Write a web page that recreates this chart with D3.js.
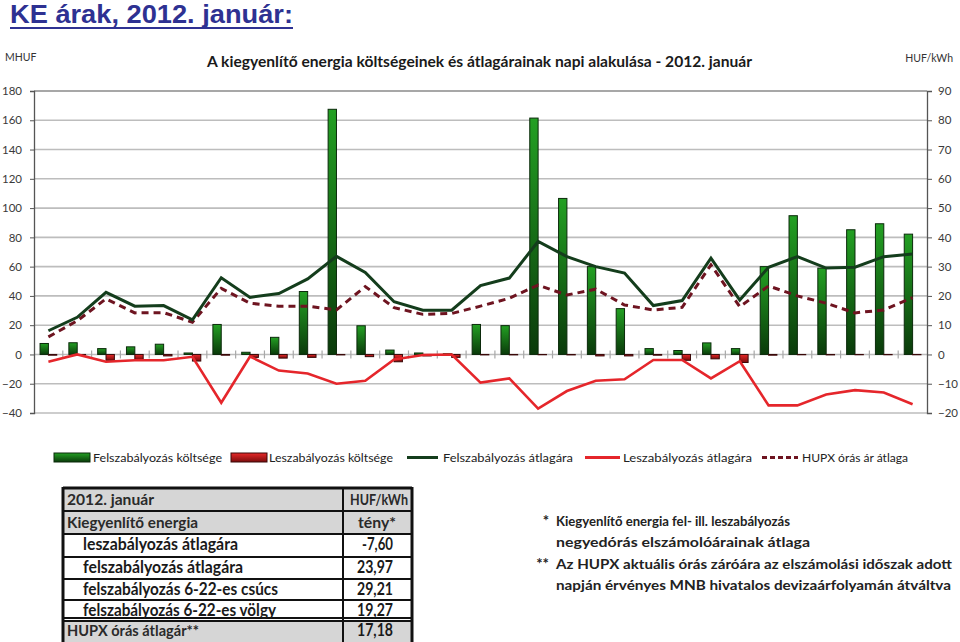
<!DOCTYPE html>
<html><head><meta charset="utf-8">
<script src="https://cdn.jsdelivr.net/npm/d3@7"></script>
<style>body{margin:0;background:#fff;} svg{display:block}</style>
</head><body>
<svg id="c" width="960" height="642"></svg>
<script>
// ---- data ----
const days = ["1","2","3","4","5","6","7","8","9","10","11","12","13","14","15","16","17","18","19","20","21","22","23","24","25","26","27","28","29","30","31"];
// MHUF (left axis)
const upCost = [7.5,8,4,5.2,7,1,20.5,1.5,11.7,43,167.5,19.6,3,1,0.5,20.5,19.7,161.5,106.6,60,31.3,4,2.7,7.9,4,60,94.8,59,85.2,89.3,82.2];
const downCost = [-0.5,-0.3,-4,-3.5,-1,-4.5,-0.5,-2,-2.5,-2,-0.3,-1.5,-5,-1,-2,-0.3,-0.3,-0.2,-0.3,-1,-1,-0.5,-4,-3,-5.5,-0.5,-0.2,-0.3,-0.2,-0.2,-0.2];
// HUF/kWh (right axis)
const upPrice = [8.1,12.7,21.2,16.5,16.7,11.8,26.2,19.5,20.8,25.8,33.5,28,18,15.1,15.1,23.5,26.1,38.6,33.4,30,27.8,16.7,18.4,32.9,18.6,29.8,33.4,29.5,29.8,33.4,34.3];
const downPrice = [-2.5,0,-2.5,-2,-2,-0.8,-16.5,-0.7,-5.5,-6.5,-10,-9,-1.7,-0.2,0,-9.6,-8.2,-18.5,-12.5,-9,-8.5,-1.9,-1.9,-8.2,-2.3,-17.4,-17.4,-13.7,-12.2,-13,-17];
const hupx = [6,11.5,19,14.2,14.3,11,22.6,17.5,16.5,16.5,15.2,23.2,16,13.7,14,16.5,19.2,23.7,20.3,22.3,16.9,15.2,16.1,30.6,16.3,23.4,20,17.5,14.2,15.2,19.4];
const leftTicks = [-40,-20,0,20,40,60,80,100,120,140,160,180];
const rightTicks = [-20,-10,0,10,20,30,40,50,60,70,80,90];
const legendLabels = ["Felszabályozás költsége","Leszabályozás költsége","Felszabályozás átlagára","Leszabályozás átlagára","HUPX órás ár átlaga"];
const tableHeader = [["2012. január","HUF/kWh"],["Kiegyenlítő energia","tény*"]];
const tableRows = [["leszabályozás átlagára","-7,60"],["felszabályozás átlagára","23,97"],["felszabályozás 6-22-es csúcs","29,21"],["felszabályozás 6-22-es völgy","19,27"]];
const tableFooter = ["HUPX órás átlagár**","17,18"];
const notes = [["*","Kiegyenlítő energia fel- ill. leszabályozás"],["","negyedórás elszámolóárainak átlaga"],["**","Az HUPX aktuális órás záróára az elszámolási időszak adott"],["","napján érvényes MNB hivatalos devizaárfolyamán átváltva"]];

// ---- drawing ----
const svg = d3.select("#c");
const F = "Lato, 'Open Sans', sans-serif";
const L = 34, R = 927, T = 91, B = 413;
const yL = d3.scaleLinear().domain([-40,180]).range([B,T]);
const yR = d3.scaleLinear().domain([-20,90]).range([B,T]);
const x = d3.scaleBand().domain(days).range([L,R]).paddingInner(0.42).paddingOuter(0.21);
const xs = d3.scaleBand().domain(["up","down"]).range([0,x.bandwidth()]);
const cx = d => x(d) + x.bandwidth()/2;

const defs = svg.append("defs");
function grad(id, c1, c2){
  const g = defs.append("linearGradient").attr("id",id).attr("x1",0).attr("y1",0).attr("x2",0).attr("y2",1);
  g.append("stop").attr("offset","0%").attr("stop-color",c1);
  g.append("stop").attr("offset","100%").attr("stop-color",c2);
}
grad("gG","#23a023","#0a3a0a");
grad("gR","#e82828","#7a0c0c");

// main title
svg.append("text").attr("x",10).attr("y",23).attr("font-family","'Liberation Sans', Arial, sans-serif")
  .attr("font-weight","bold").attr("font-size",25).attr("fill","#2e3192")
  .attr("textLength",283).attr("lengthAdjust","spacingAndGlyphs")
  .text("KE árak, 2012. január:");
svg.append("rect").attr("x",10).attr("y",27).attr("width",283).attr("height",2).attr("fill","#2e3192");

// chart title + units
svg.append("text").attr("x",207).attr("y",67).attr("font-family",F).attr("font-weight","bold")
  .attr("font-size",15).attr("fill","#1a1a1a").attr("textLength",545).attr("lengthAdjust","spacingAndGlyphs")
  .text("A kiegyenlítő energia költségeinek és átlagárainak napi alakulása - 2012. január");
svg.append("text").attr("x",5).attr("y",61).attr("font-family",F).attr("font-size",10.5).attr("fill","#333").text("MHUF");
svg.append("text").attr("x",953).attr("y",62).attr("text-anchor","end").attr("font-family",F).attr("font-size",10.5).attr("fill","#333").text("HUF/kWh");

// grid
svg.append("g").selectAll("line").data(leftTicks).join("line")
  .attr("x1",L).attr("x2",R).attr("y1",d=>yL(d)).attr("y2",d=>yL(d))
  .attr("stroke",d=>d===180?"#8a8a8a":"#bdbdbd").attr("stroke-width",1.6);

// category boundary ticks on zero line
const step = x.step();
svg.append("g").selectAll("line").data(days.slice(1)).join("line")
  .attr("x1",d=>x(d)-x.paddingInner()*step/2).attr("x2",d=>x(d)-x.paddingInner()*step/2)
  .attr("y1",yL(0)-4).attr("y2",yL(0)+4).attr("stroke","#a8a8a8").attr("stroke-width",1.2);

// axes
function styleAxis(g){
  g.selectAll("path.domain").attr("stroke","#555").attr("stroke-width",1.3);
  g.selectAll(".tick line").attr("stroke","#555");
  g.selectAll(".tick text").attr("font-family",F).attr("font-size",11.5).attr("fill","#3a3a3a");
}
svg.append("g").attr("transform",`translate(${L},0)`)
  .call(d3.axisLeft(yL).tickValues(leftTicks).tickSize(4).tickSizeOuter(4).tickPadding(8)).call(styleAxis);
svg.append("g").attr("transform",`translate(${R},0)`)
  .call(d3.axisRight(yR).tickValues(rightTicks).tickSize(5).tickSizeOuter(5).tickPadding(6)).call(styleAxis);

// bars
svg.append("g").selectAll("rect").data(days).join("rect")
  .attr("x",(d)=>x(d)+xs("up")).attr("width",xs.bandwidth())
  .attr("y",(d,i)=>yL(upCost[i])).attr("height",(d,i)=>yL(0)-yL(upCost[i]))
  .attr("fill","url(#gG)").attr("stroke","#0b2a0b").attr("stroke-width",1);
svg.append("g").selectAll("rect").data(days).join("rect")
  .attr("x",(d)=>x(d)+xs("down")).attr("width",xs.bandwidth())
  .attr("y",yL(0)).attr("height",(d,i)=>yL(downCost[i])-yL(0))
  .attr("fill","url(#gR)").attr("stroke","#3a0808").attr("stroke-width",1);

// lines
const line = arr => d3.line().x((d)=>cx(d)).y((d,i)=>yR(arr[i]))(days);
svg.append("path").attr("d",line(hupx)).attr("fill","none").attr("stroke","#6e1420").attr("stroke-width",3).attr("stroke-dasharray","7,5");
svg.append("path").attr("d",line(upPrice)).attr("fill","none").attr("stroke","#143d1c").attr("stroke-width",3);
svg.append("path").attr("d",line(downPrice)).attr("fill","none").attr("stroke","#e5262b").attr("stroke-width",2.6);

// legend
const lg = svg.append("g").attr("font-family",F).attr("font-size",11.5).attr("fill","#222");
const ly = 457.5;
const legendPos = [[54,93,129],[231,269,124],[407,443,130],[585,623,129],[762,802,106]];
legendLabels.forEach((lab,i)=>{
  const [sx,tx,tl] = legendPos[i];
  if(i===0) lg.append("rect").attr("x",sx).attr("y",ly-4.5).attr("width",36).attr("height",9).attr("fill","url(#gG)").attr("stroke","#0b2a0b");
  if(i===1) lg.append("rect").attr("x",sx).attr("y",ly-4.5).attr("width",36).attr("height",9).attr("fill","url(#gR)").attr("stroke","#3a0808");
  if(i===2) lg.append("line").attr("x1",sx).attr("x2",sx+31).attr("y1",ly).attr("y2",ly).attr("stroke","#143d1c").attr("stroke-width",3);
  if(i===3) lg.append("line").attr("x1",sx).attr("x2",sx+35).attr("y1",ly).attr("y2",ly).attr("stroke","#e5262b").attr("stroke-width",3);
  if(i===4) lg.append("line").attr("x1",sx).attr("x2",sx+36).attr("y1",ly).attr("y2",ly).attr("stroke","#6e1420").attr("stroke-width",3).attr("stroke-dasharray","5,3");
  lg.append("text").attr("x",tx).attr("y",ly+4).attr("textLength",tl).attr("lengthAdjust","spacingAndGlyphs").text(lab);
});

// table
const tg = svg.append("g").attr("font-family",F);
const tX0 = 63, tX1 = 343, tX2 = 412;
const rowY = [488,511,534,557,579,600,621,643];
const gray = "#d6d6d6";
[0,1].forEach(i=>tg.append("rect").attr("x",tX0).attr("y",rowY[i]).attr("width",tX2-tX0).attr("height",rowY[i+1]-rowY[i]).attr("fill",gray));
tg.append("rect").attr("x",tX0).attr("y",rowY[6]).attr("width",tX2-tX0).attr("height",rowY[7]-rowY[6]).attr("fill",gray);
rowY.slice(0,7).forEach((y,i)=>tg.append("line").attr("x1",tX0).attr("x2",tX2).attr("y1",y).attr("y2",y).attr("stroke","#111").attr("stroke-width",i===0?3:2));
tg.append("line").attr("x1",tX0).attr("x2",tX2).attr("y1",618).attr("y2",618).attr("stroke","#111").attr("stroke-width",2);
[tX0,tX1,tX2].forEach(xx=>tg.append("line").attr("x1",xx).attr("x2",xx).attr("y1",487).attr("y2",642).attr("stroke","#111").attr("stroke-width",xx===tX1?2:3));
const hdrVals = [[350,58],[358,38]];
tableHeader.forEach((r,i)=>{
  tg.append("text").attr("x",67).attr("y",rowY[i]+17).attr("font-size",16).attr("fill","#2a2a2a").attr("font-weight","bold")
    .attr("textLength",i===0?87:131).attr("lengthAdjust","spacingAndGlyphs").text(r[0]);
  tg.append("text").attr("x",hdrVals[i][0]).attr("y",rowY[i]+17).attr("font-size",16).attr("fill","#2a2a2a").attr("font-weight","bold")
    .attr("textLength",hdrVals[i][1]).attr("lengthAdjust","spacingAndGlyphs").text(r[1]);
});
const rowLens = [155,160,195,193];
const valPos = [[362,31],[357,36],[357,36],[357,36]];
tableRows.forEach((r,i)=>{
  tg.append("text").attr("x",83).attr("y",rowY[i+2]+16).attr("font-size",16.5).attr("font-weight","bold").attr("fill","#1a1a1a")
    .attr("textLength",rowLens[i]).attr("lengthAdjust","spacingAndGlyphs").text(r[0]);
  tg.append("text").attr("x",valPos[i][0]).attr("y",rowY[i+2]+16).attr("font-size",16.5).attr("font-weight","bold").attr("fill","#1a1a1a")
    .attr("textLength",valPos[i][1]).attr("lengthAdjust","spacingAndGlyphs").text(r[1]);
});
tg.append("text").attr("x",67).attr("y",636).attr("font-size",16).attr("font-weight","bold").attr("fill","#2a2a2a")
  .attr("textLength",132).attr("lengthAdjust","spacingAndGlyphs").text(tableFooter[0]);
tg.append("text").attr("x",357).attr("y",636).attr("font-size",16.5).attr("font-weight","bold").attr("fill","#1a1a1a")
  .attr("textLength",36).attr("lengthAdjust","spacingAndGlyphs").text(tableFooter[1]);

// notes
const ng = svg.append("g").attr("font-family",F).attr("font-weight","bold").attr("font-size",14).attr("fill","#222");
const noteY = [526,547,569,590];
const noteLens = [234,254,396,395];
notes.forEach((n,i)=>{
  if(n[0]) ng.append("text").attr("x",549).attr("y",noteY[i]).attr("text-anchor","end").attr("font-size",15).text(n[0]);
  ng.append("text").attr("x",556).attr("y",noteY[i]).attr("textLength",noteLens[i]).attr("lengthAdjust","spacingAndGlyphs").text(n[1]);
});
</script>
</body></html>
